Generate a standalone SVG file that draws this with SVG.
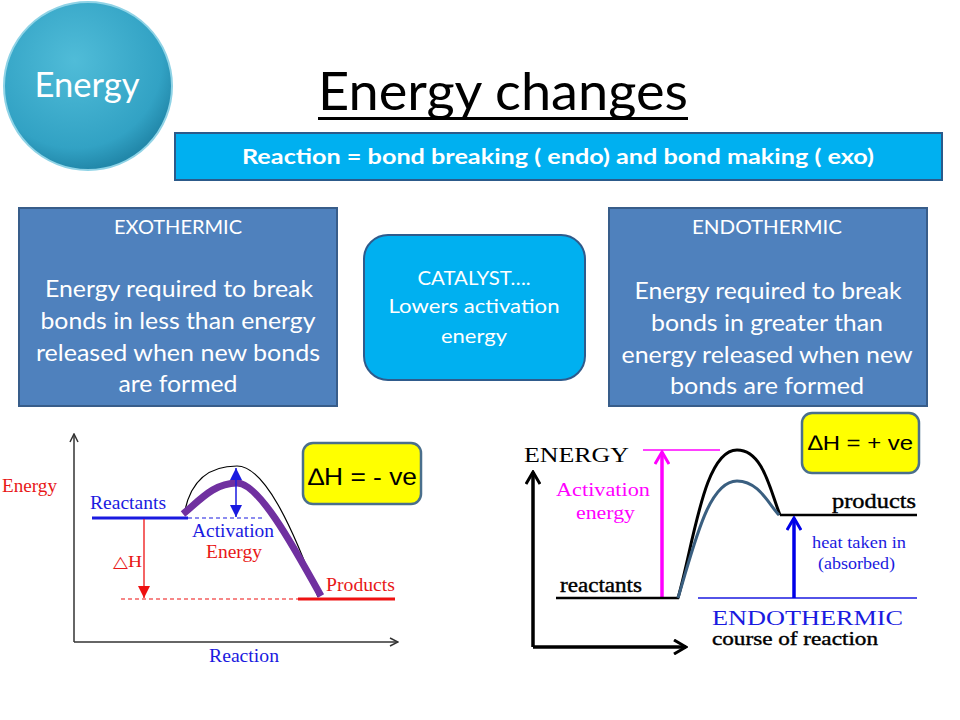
<svg xmlns="http://www.w3.org/2000/svg" width="960" height="720" viewBox="0 0 960 720">
<style>
.cal{font-family:Lato,"Open Sans","Liberation Sans",sans-serif;}
.wt{fill:#ffffff;text-anchor:middle;}
.ser{font-family:"Liberation Serif","DejaVu Serif",serif;}
.box{fill:#4f81bd;stroke:#385d8a;stroke-width:2;}
.ax{fill:none;stroke:#333;stroke-width:1.5;}
.axr{fill:none;stroke:#000;stroke-width:3.5;}
.ybox{fill:#ffff00;stroke:#4a6f8c;stroke-width:2.5;}
.dh{font-family:"Liberation Sans","Arial",sans-serif;fill:#000;}
</style>
<defs>
<radialGradient id="cg" cx="0.42" cy="0.35" r="0.65">
<stop offset="0" stop-color="#50bcd8"/>
<stop offset="0.8" stop-color="#32a2c4"/>
<stop offset="1" stop-color="#2288aa"/>
</radialGradient>
<marker id="chev" viewBox="0 0 10 10" refX="9" refY="5" markerWidth="10" markerHeight="10" markerUnits="userSpaceOnUse" orient="auto">
<path d="M1,1 L9,5 L1,9" fill="none" stroke="#333" stroke-width="1.5"/>
</marker>
<marker id="chevB" viewBox="0 0 16 16" refX="14" refY="8" markerWidth="16" markerHeight="16" markerUnits="userSpaceOnUse" orient="auto">
<path d="M2,1 L14,8 L2,15" fill="none" stroke="#000" stroke-width="3"/>
</marker>
<marker id="chevM" viewBox="0 0 16 16" refX="14" refY="8" markerWidth="16" markerHeight="16" markerUnits="userSpaceOnUse" orient="auto">
<path d="M2,1 L14,8 L2,15" fill="none" stroke="#ff00ff" stroke-width="3"/>
</marker>
<marker id="chevBl" viewBox="0 0 16 16" refX="14" refY="8" markerWidth="16" markerHeight="16" markerUnits="userSpaceOnUse" orient="auto">
<path d="M2,1 L14,8 L2,15" fill="none" stroke="#0000e8" stroke-width="3"/>
</marker>
<marker id="triB" viewBox="0 0 10 10" refX="10" refY="5" markerWidth="12" markerHeight="12" markerUnits="userSpaceOnUse" orient="auto">
<path d="M0,0 L10,5 L0,10 Z" fill="#1a1ae0"/>
</marker>
<marker id="triBs" viewBox="0 0 10 10" refX="0" refY="5" markerWidth="12" markerHeight="12" markerUnits="userSpaceOnUse" orient="auto">
<path d="M10,0 L0,5 L10,10 Z" fill="#1a1ae0"/>
</marker>
<marker id="triR" viewBox="0 0 10 10" refX="10" refY="5" markerWidth="12" markerHeight="12" markerUnits="userSpaceOnUse" orient="auto">
<path d="M0,0 L10,5 L0,10 Z" fill="#ee1111"/>
</marker>
</defs>
<rect width="960" height="720" fill="#ffffff"/>

<g id="energy-circle">
<circle cx="88" cy="86" r="84" fill="url(#cg)" stroke="#8fd3e6" stroke-width="2"/>
<text class="cal wt" x="87" y="97" font-size="34" textLength="105" lengthAdjust="spacingAndGlyphs">Energy</text>
</g>

<g id="title">
<text class="cal" x="503" y="110" font-size="52" text-anchor="middle" fill="#000" textLength="370" lengthAdjust="spacingAndGlyphs">Energy changes</text>
<line x1="318" y1="118.5" x2="688" y2="118.5" stroke="#000" stroke-width="3"/>
</g>

<g id="banner">
<rect x="175" y="133" width="767" height="47" fill="#00b0f0" stroke="#2c5a8a" stroke-width="2"/>
<text class="cal wt" x="558" y="164" font-size="21" font-weight="bold" textLength="632" lengthAdjust="spacingAndGlyphs">Reaction = bond breaking ( endo) and bond making ( exo)</text>
</g>

<g id="exothermic">
<rect class="box" x="19" y="208" width="318" height="198"/>
<text class="cal wt" x="178" y="234" font-size="19" textLength="128" lengthAdjust="spacingAndGlyphs">EXOTHERMIC</text>
<text class="cal wt" x="179" y="297" font-size="23" textLength="268" lengthAdjust="spacingAndGlyphs">Energy required to break</text>
<text class="cal wt" x="178" y="329" font-size="23" textLength="275" lengthAdjust="spacingAndGlyphs">bonds in less than energy</text>
<text class="cal wt" x="178" y="361" font-size="23" textLength="284" lengthAdjust="spacingAndGlyphs">released when new bonds</text>
<text class="cal wt" x="178" y="392" font-size="23" textLength="119" lengthAdjust="spacingAndGlyphs">are formed</text>
</g>

<g id="catalyst">
<rect x="364" y="235" width="221" height="145" rx="24" fill="#00b0f0" stroke="#2f5b8c" stroke-width="2"/>
<text class="cal wt" x="474" y="285" font-size="19" textLength="113" lengthAdjust="spacingAndGlyphs">CATALYST….</text>
<text class="cal wt" x="474" y="313" font-size="19" textLength="171" lengthAdjust="spacingAndGlyphs">Lowers activation</text>
<text class="cal wt" x="474" y="343" font-size="19" textLength="66" lengthAdjust="spacingAndGlyphs">energy</text>
</g>

<g id="endothermic">
<rect class="box" x="609" y="208" width="318" height="198"/>
<text class="cal wt" x="767" y="234" font-size="19" textLength="150" lengthAdjust="spacingAndGlyphs">ENDOTHERMIC</text>
<text class="cal wt" x="768" y="299" font-size="23" textLength="267" lengthAdjust="spacingAndGlyphs">Energy required to break</text>
<text class="cal wt" x="767" y="331" font-size="23" textLength="232" lengthAdjust="spacingAndGlyphs">bonds in greater than</text>
<text class="cal wt" x="767" y="363" font-size="23" textLength="291" lengthAdjust="spacingAndGlyphs">energy released when new</text>
<text class="cal wt" x="767" y="394" font-size="23" textLength="194" lengthAdjust="spacingAndGlyphs">bonds are formed</text>
</g>

<g id="exo-chart">
<path class="ax" d="M74,642 L74,434" marker-end="url(#chev)"/>
<path class="ax" d="M74,642 L398,642" marker-end="url(#chev)"/>
<text class="ser" x="2" y="492" font-size="19" fill="#e81818" textLength="55" lengthAdjust="spacingAndGlyphs">Energy</text>
<text class="ser" x="90" y="509" font-size="19" fill="#1a1ae0" textLength="76" lengthAdjust="spacingAndGlyphs">Reactants</text>
<line x1="92" y1="518" x2="188" y2="518" stroke="#1a1ae0" stroke-width="3"/>
<line x1="188" y1="518" x2="264" y2="518" stroke="#1a1ae0" stroke-width="1.2" stroke-dasharray="4,3"/>
<line x1="121" y1="599" x2="298" y2="599" stroke="#ee1111" stroke-width="1.2" stroke-dasharray="4,3"/>
<line x1="298" y1="599" x2="395" y2="599" stroke="#ee1111" stroke-width="3"/>
<path d="M185,510 C192,478 212,466 237,466 C264,466 292,525 318,597" fill="none" stroke="#000" stroke-width="1.2"/>
<path d="M183,514 C200,500 214,483 237,483 C258,483 290,540 321,596" fill="none" stroke="#7030a0" stroke-width="7"/>
<line x1="236" y1="468" x2="236" y2="517" stroke="#1a1ae0" stroke-width="1.5" marker-start="url(#triBs)" marker-end="url(#triB)"/>
<line x1="144" y1="519" x2="144" y2="598" stroke="#ee1111" stroke-width="1.3" marker-end="url(#triR)"/>
<text class="ser" x="192" y="537" font-size="19" fill="#1a1ae0" textLength="82" lengthAdjust="spacingAndGlyphs">Activation</text>
<text class="ser" x="206" y="558" font-size="19" fill="#e81818" textLength="56" lengthAdjust="spacingAndGlyphs">Energy</text>
<text class="ser" x="113" y="567" font-size="16" fill="#e81818" textLength="29" lengthAdjust="spacingAndGlyphs">△H</text>
<text class="ser" x="326" y="591" font-size="19" fill="#e81818" textLength="69" lengthAdjust="spacingAndGlyphs">Products</text>
<text class="ser" x="209" y="662" font-size="19" fill="#1a1ae0" textLength="70" lengthAdjust="spacingAndGlyphs">Reaction</text>
</g>

<g id="dh-neg">
<rect class="ybox" x="303" y="443" width="118" height="61" rx="10"/>
<text class="dh" x="308" y="485" font-size="24" textLength="109" lengthAdjust="spacingAndGlyphs">∆H = - ve</text>
</g>

<g id="endo-chart">
<path class="axr" d="M533,647 L533,472" marker-end="url(#chevB)"/>
<path class="axr" d="M533,647 L686,647" marker-end="url(#chevB)"/>
<text class="ser" x="524" y="462" font-size="22" fill="#000" textLength="105" lengthAdjust="spacingAndGlyphs">ENERGY</text>
<line x1="643" y1="450" x2="720" y2="450" stroke="#ff00ff" stroke-width="1.5"/>
<line x1="662" y1="598" x2="662" y2="452" stroke="#ff00ff" stroke-width="3.5" marker-end="url(#chevM)"/>
<text class="ser" x="556" y="496" font-size="19" fill="#ff00ff" textLength="94" lengthAdjust="spacingAndGlyphs">Activation</text>
<text class="ser" x="576" y="519" font-size="19" fill="#ff00ff" textLength="59" lengthAdjust="spacingAndGlyphs">energy</text>
<text class="ser" x="560" y="592" font-size="20" fill="#000" stroke="#000" stroke-width="0.4" textLength="82" lengthAdjust="spacingAndGlyphs">reactants</text>
<line x1="556" y1="598" x2="679" y2="598" stroke="#000" stroke-width="2.5"/>
<path d="M678,598 C694,542 704,450 737,450 C763,450 770,490 780,515" fill="none" stroke="#000" stroke-width="3"/>
<path d="M678,598 C694,546 708,481 737,481 C759,481 769,505 779,515" fill="none" stroke="#3a5f80" stroke-width="3"/>
<line x1="780" y1="515" x2="917" y2="515" stroke="#000" stroke-width="2.5"/>
<text class="ser" x="832" y="508" font-size="21" fill="#000" stroke="#000" stroke-width="0.4" textLength="84" lengthAdjust="spacingAndGlyphs">products</text>
<line x1="698" y1="598" x2="917" y2="598" stroke="#1a1ae0" stroke-width="1.5"/>
<line x1="794" y1="598" x2="794" y2="518" stroke="#0000e8" stroke-width="3.5" marker-end="url(#chevBl)"/>
<text class="ser" x="812" y="548" font-size="17" fill="#1a1ae0" textLength="94" lengthAdjust="spacingAndGlyphs">heat taken in</text>
<text class="ser" x="818" y="569" font-size="17" fill="#1a1ae0" textLength="77" lengthAdjust="spacingAndGlyphs">(absorbed)</text>
<text class="ser" x="712" y="625" font-size="20" fill="#1a1ae0" textLength="191" lengthAdjust="spacingAndGlyphs">ENDOTHERMIC</text>
<text class="ser" x="712" y="645" font-size="19" fill="#000" stroke="#000" stroke-width="0.4" textLength="166" lengthAdjust="spacingAndGlyphs">course of reaction</text>
</g>

<g id="dh-pos">
<rect class="ybox" x="802" y="413" width="117" height="60" rx="10"/>
<text class="dh" x="808" y="450" font-size="21" textLength="105" lengthAdjust="spacingAndGlyphs">∆H = + ve</text>
</g>

<g id="connectors"></g>
</svg>
